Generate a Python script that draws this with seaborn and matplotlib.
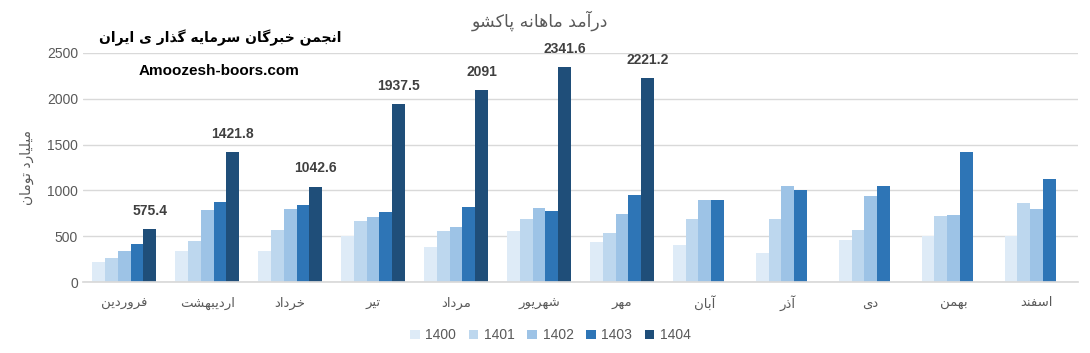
"""Grouped monthly revenue bars (Persian calendar), Excel-like styling."""

import matplotlib

matplotlib.use("Agg")

import matplotlib.pyplot as plt
import numpy as np
import pandas as pd
import seaborn as sns

months = ["فروردین", "اردیبهشت", "خرداد", "تیر", "مرداد", "شهریور",
          "مهر", "آبان", "آذر", "دی", "بهمن", "اسفند"]
years = ["1400", "1401", "1402", "1403", "1404"]
nan = np.nan
rev_1400 = [223, 343, 343, 504, 387, 562, 442, 409, 321, 464, 507, 507]
rev_1401 = [266, 453, 573, 661, 562, 683, 540, 683, 683, 573, 726, 858]
rev_1402 = [343, 781, 792, 715, 606, 803, 748, 891, 1044, 934, 737, 792]
rev_1403 = [420, 869, 836, 759, 814, 770, 945, 891, 1000, 1044, 1416, 1121]
rev_1404 = [575.4, 1421.8, 1042.6, 1937.5, 2091, 2341.6, 2221.2,
            nan, nan, nan, nan, nan]
colors = ["#DEEBF7", "#BDD7EE", "#9DC3E6", "#2E75B6", "#1F4E79"]

title_text = "درآمد ماهانه پاکشو"
ylabel_text = "میلیارد تومان"
brand_fa = "انجمن خبرگان سرمایه گذار ی ایران"
brand_en = "Amoozesh-boors.com"

# minimal Persian shaping: (isolated, final, initial, medial)
FORMS = {
    "ا": (0xFE8D, 0xFE8E, None, None), "آ": (0xFE81, 0xFE82, None, None),
    "ب": (0xFE8F, 0xFE90, 0xFE91, 0xFE92), "پ": (0xFB56, 0xFB57, 0xFB58, 0xFB59),
    "ت": (0xFE95, 0xFE96, 0xFE97, 0xFE98), "ج": (0xFE9D, 0xFE9E, 0xFE9F, 0xFEA0),
    "خ": (0xFEA5, 0xFEA6, 0xFEA7, 0xFEA8), "د": (0xFEA9, 0xFEAA, None, None),
    "ذ": (0xFEAB, 0xFEAC, None, None), "ر": (0xFEAD, 0xFEAE, None, None),
    "ز": (0xFEAF, 0xFEB0, None, None), "س": (0xFEB1, 0xFEB2, 0xFEB3, 0xFEB4),
    "ش": (0xFEB5, 0xFEB6, 0xFEB7, 0xFEB8), "ف": (0xFED1, 0xFED2, 0xFED3, 0xFED4),
    "ک": (0xFB8E, 0xFB8F, 0xFB90, 0xFB91), "گ": (0xFB92, 0xFB93, 0xFB94, 0xFB95),
    "ل": (0xFEDD, 0xFEDE, 0xFEDF, 0xFEE0), "م": (0xFEE1, 0xFEE2, 0xFEE3, 0xFEE4),
    "ن": (0xFEE5, 0xFEE6, 0xFEE7, 0xFEE8), "و": (0xFEED, 0xFEEE, None, None),
    "ه": (0xFEE9, 0xFEEA, 0xFEEB, 0xFEEC), "ی": (0xFBFC, 0xFBFD, 0xFBFE, 0xFBFF),
}


def fa(text):
    out = []
    for i, ch in enumerate(text):
        if ch not in FORMS:
            out.append(ch)
            continue
        prev = text[i - 1] if i > 0 else ""
        nxt = text[i + 1] if i + 1 < len(text) else ""
        join_prev = prev in FORMS and FORMS[prev][2] is not None
        join_next = nxt in FORMS and FORMS[ch][2] is not None
        iso, fin, ini, med = FORMS[ch]
        if join_prev and join_next:
            code = med
        elif join_prev:
            code = fin
        elif join_next:
            code = ini
        else:
            code = iso
        out.append(chr(code))
    return "".join(out)[::-1]


df = pd.DataFrame({"month": months * 5,
                   "year": np.repeat(years, len(months)),
                   "value": rev_1400 + rev_1401 + rev_1402 + rev_1403 + rev_1404})

sns.set_theme(style="white")
plt.rcParams["font.family"] = ["Liberation Sans", "DejaVu Sans"]
gray = "#595959"

fig = plt.figure(figsize=(10.9, 3.53), dpi=100)
ax = fig.add_axes([0.076, 0.201, 0.913, 0.649])
sns.barplot(data=df, x="month", y="value", hue="year", order=months,
            hue_order=years, palette=colors, width=0.77, saturation=1,
            errorbar=None, ax=ax, legend=True, linewidth=0)

ax.set_ylim(0, 2500)
ax.set_yticks(range(0, 2501, 500))
ax.grid(axis="y", color="#D9D9D9", linewidth=1)
ax.set_axisbelow(True)
for side in ["top", "right", "left"]:
    ax.spines[side].set_visible(False)
ax.spines["bottom"].set_color("#D9D9D9")
ax.tick_params(axis="both", length=0, colors=gray, labelsize=10)
ax.set_xticks(range(len(months)))
ax.set_xticklabels([fa(m) for m in months], family="DejaVu Sans", fontsize=9.5,
                   va="center_baseline")
ax.tick_params(axis="x", pad=14)
ax.set_xlabel("")
ax.set_ylabel(fa(ylabel_text), family="DejaVu Sans", fontsize=10, color=gray,
              labelpad=9)

labels = [f"{v:g}" for v in rev_1404 if not np.isnan(v)]
ax.bar_label(ax.containers[4], labels=labels, padding=8, fontsize=10,
             fontweight="bold", color="#404040")

handles, _ = ax.get_legend_handles_labels()
ax.legend(handles, years, loc="center", bbox_to_anchor=(0.505, 0.05),
          bbox_transform=fig.transFigure, ncol=5, frameon=False,
          handlelength=0.7, handleheight=0.7, handletextpad=0.4,
          columnspacing=0.9, fontsize=10, labelcolor=gray)

fig.text(0.495, 0.94, fa(title_text), ha="center", va="center",
         family="DejaVu Sans", fontsize=12.5, color=gray)
fig.text(0.202, 0.893, fa(brand_fa), ha="center", va="center",
         family="DejaVu Sans", fontsize=10, fontweight="bold", color="black")
fig.text(0.201, 0.80, brand_en, ha="center", va="center",
         fontsize=11, fontweight="bold", color="black")

fig.savefig("out.png", dpi=100)
